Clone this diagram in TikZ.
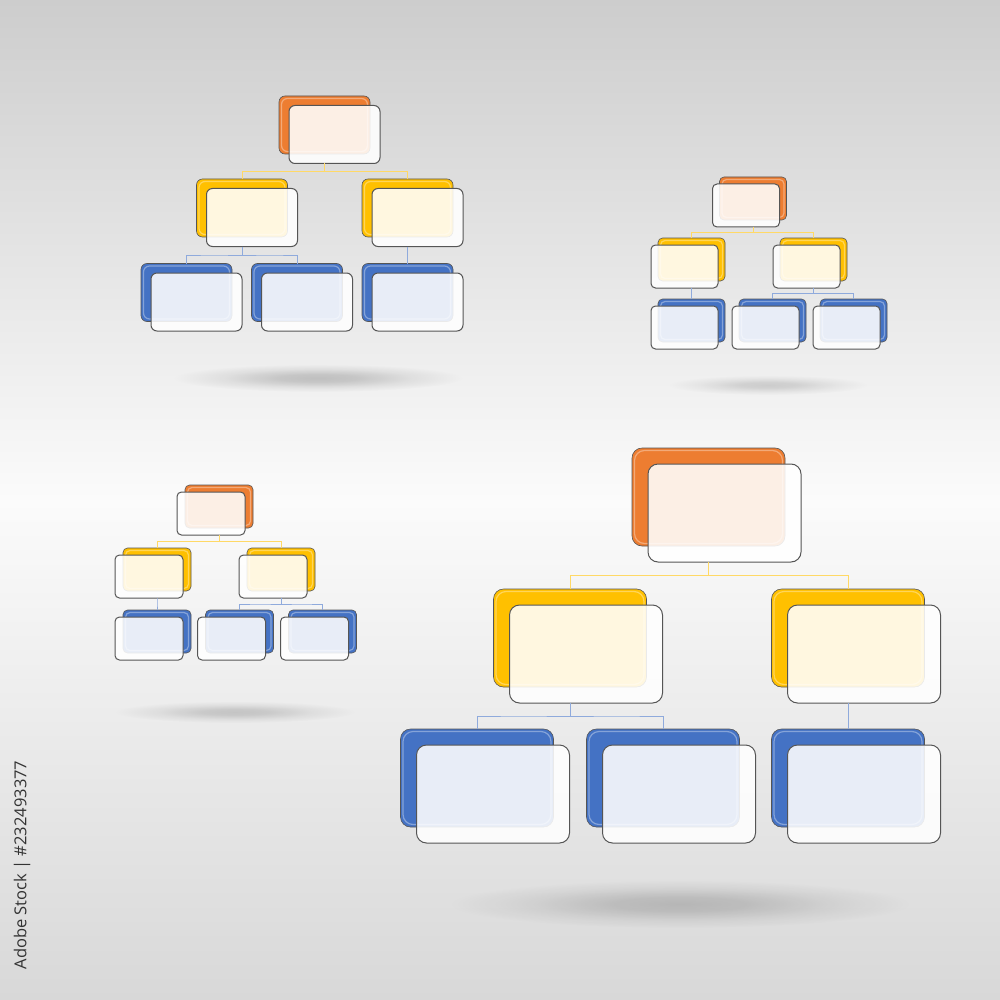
\documentclass[tikz,border=0pt]{standalone}
\usepackage{fontspec}
\newfontfamily\idfont{Open Sans}
\usepackage{tikz}
\usetikzlibrary{
  calc,
  fadings,
  positioning
}
\definecolor{orgorange}{HTML}{ED7D31}
\definecolor{orgyellow}{HTML}{FFC000}
\definecolor{orgblue}{HTML}{4472C4}
\definecolor{linkyellow}{HTML}{FFD966}
\definecolor{linkblue}{HTML}{8FAADC}
\definecolor{bgtop}{HTML}{CDCDCD}
\definecolor{bgmid}{HTML}{FBFBFB}
\definecolor{bgbot}{HTML}{D8D8D8}
\definecolor{rimgray}{HTML}{555555}
\definecolor{idgray}{HTML}{333333}
\pgfdeclareradialshading{floorshade}{\pgfpointorigin}{%
  color(0bp)=(transparent!0); color(7bp)=(transparent!15);
  color(17bp)=(transparent!70); color(25bp)=(transparent!100);
  color(50bp)=(transparent!100)}
\pgfdeclarefading{softfloor}{\pgfuseshading{floorshade}}
\tikzset{
  backbox/.style={draw=rimgray, line width=0.6pt, inner sep=0pt, outer sep=0pt,
    path picture={
      \draw[white, opacity=0.35, line width=1.2pt]
        ([shift={(2.5,2.5)}]path picture bounding box.north west) rectangle
        ([shift={(-2.5,-2.5)}]path picture bounding box.south east);
    }},
  frontbox/.style={draw=rimgray, line width=1pt, fill=white, fill opacity=0.88,
    inner sep=0pt, outer sep=0pt},
  ylink/.style={draw=linkyellow, line width=1pt},
  blink/.style={draw=linkblue, line width=1pt},
  floor/.style={fill=black, path fading=softfloor, fit fading=true},
}
% back card in colour, white glass card shifted over it
\newcommand{\orgbox}[6]{%
  \node[backbox, fill=#5, minimum width=#3, minimum height=#4] (#1b) at (#2) {};
  \node[frontbox, minimum width=#3, minimum height=#4] (#1f) at ($(#1b)+(#6)$) {};
}
% elbow link: parent glass card -> child back card
\newcommand{\orglink}[4]{%
  \coordinate (linkfoot) at (#2.south -| #3);
  \draw[#1] (linkfoot) |- ($(linkfoot)!.5!(#4.north)$) -| (#4.north);
}

\begin{document}
\begin{tikzpicture}[x=1pt, y=-1pt]
\useasboundingbox (0,0) rectangle (1000,1000);
\shade[top color=bgtop, bottom color=bgbot, middle color=bgmid] (0,0) rectangle (1000,1000);

% --- soft shadows on the floor ---
\fill[floor, opacity=0.20] (318,378) ellipse [x radius=145, y radius=14];
\fill[floor, opacity=0.15] (768,385) ellipse [x radius=100, y radius=10];
\fill[floor, opacity=0.17] (235,712) ellipse [x radius=120, y radius=11];
\fill[floor, opacity=0.18] (680,904) ellipse [x radius=230, y radius=24];

% --- chart A, top left ---
\begin{scope}[every node/.append style={rounded corners=6pt}]
  \orgbox{Atop}{324.5,125}{91}{58}{orgorange}{10,9.5}
  \orgbox{Ay1}{242,208}{91}{58}{orgyellow}{10,9.5}
  \orgbox{Ay2}{407.5,208}{91}{58}{orgyellow}{10,9.5}
  \orgbox{Ab1}{186.5,292.5}{91}{58}{orgblue}{10,9.5}
  \orgbox{Ab2}{297,292.5}{91}{58}{orgblue}{10,9.5}
  \orgbox{Ab3}{407.5,292.5}{91}{58}{orgblue}{10,9.5}
  \orglink{ylink}{Atopf}{Atopb}{Ay1b}
  \orglink{ylink}{Atopf}{Atopb}{Ay2b}
  \orglink{blink}{Ay1f}{Ay1b}{Ab1b}
  \orglink{blink}{Ay1f}{Ay1b}{Ab2b}
  \orglink{blink}{Ay2f}{Ay2b}{Ab3b}
\end{scope}

% --- chart B, top right ---
\begin{scope}[every node/.append style={rounded corners=4.5pt}]
  \orgbox{Btop}{753,198.5}{67}{43}{orgorange}{-7,7}
  \orgbox{By1}{691.5,259.5}{67}{43}{orgyellow}{-7,7}
  \orgbox{By2}{813.5,259.5}{67}{43}{orgyellow}{-7,7}
  \orgbox{Bb1}{691.5,320.5}{67}{43}{orgblue}{-7,7}
  \orgbox{Bb2}{772.5,320.5}{67}{43}{orgblue}{-7,7}
  \orgbox{Bb3}{853.5,320.5}{67}{43}{orgblue}{-7,7}
  \orglink{ylink}{Btopf}{Btopb}{By1b}
  \orglink{ylink}{Btopf}{Btopb}{By2b}
  \orglink{blink}{By1f}{By1b}{Bb1b}
  \orglink{blink}{By2f}{By2b}{Bb2b}
  \orglink{blink}{By2f}{By2b}{Bb3b}
\end{scope}

% --- chart C, bottom left ---
\begin{scope}[every node/.append style={rounded corners=4.5pt}]
  \orgbox{Ctop}{219,506.5}{68}{43}{orgorange}{-8,7}
  \orgbox{Cy1}{157,569.5}{68}{43}{orgyellow}{-8,7}
  \orgbox{Cy2}{281,569.5}{68}{43}{orgyellow}{-8,7}
  \orgbox{Cb1}{157,631.5}{68}{43}{orgblue}{-8,7}
  \orgbox{Cb2}{239.5,631.5}{68}{43}{orgblue}{-8,7}
  \orgbox{Cb3}{322.5,631.5}{68}{43}{orgblue}{-8,7}
  \orglink{ylink}{Ctopf}{Ctopb}{Cy1b}
  \orglink{ylink}{Ctopf}{Ctopb}{Cy2b}
  \orglink{blink}{Cy1f}{Cy1b}{Cb1b}
  \orglink{blink}{Cy2f}{Cy2b}{Cb2b}
  \orglink{blink}{Cy2f}{Cy2b}{Cb3b}
\end{scope}

% --- chart D, bottom right (large) ---
\begin{scope}[every node/.append style={rounded corners=10pt}]
  \orgbox{Dtop}{708.5,497}{153}{98}{orgorange}{16,16}
  \orgbox{Dy1}{570,638}{153}{98}{orgyellow}{16,16}
  \orgbox{Dy2}{848,638}{153}{98}{orgyellow}{16,16}
  \orgbox{Db1}{477,778}{153}{98}{orgblue}{16,16}
  \orgbox{Db2}{663,778}{153}{98}{orgblue}{16,16}
  \orgbox{Db3}{848,778}{153}{98}{orgblue}{16,16}
  \orglink{ylink}{Dtopf}{Dtopb}{Dy1b}
  \orglink{ylink}{Dtopf}{Dtopb}{Dy2b}
  \orglink{blink}{Dy1f}{Dy1b}{Db1b}
  \orglink{blink}{Dy1f}{Dy1b}{Db2b}
  \orglink{blink}{Dy2f}{Dy2b}{Db3b}
\end{scope}

% --- stock id on the left edge ---
\node[rotate=90, text=idgray, font=\idfont\fontsize{16.5}{19}\selectfont]
  (stockid) at (22,865) {Adobe Stock | \#232493377};

\end{tikzpicture}
\end{document}
